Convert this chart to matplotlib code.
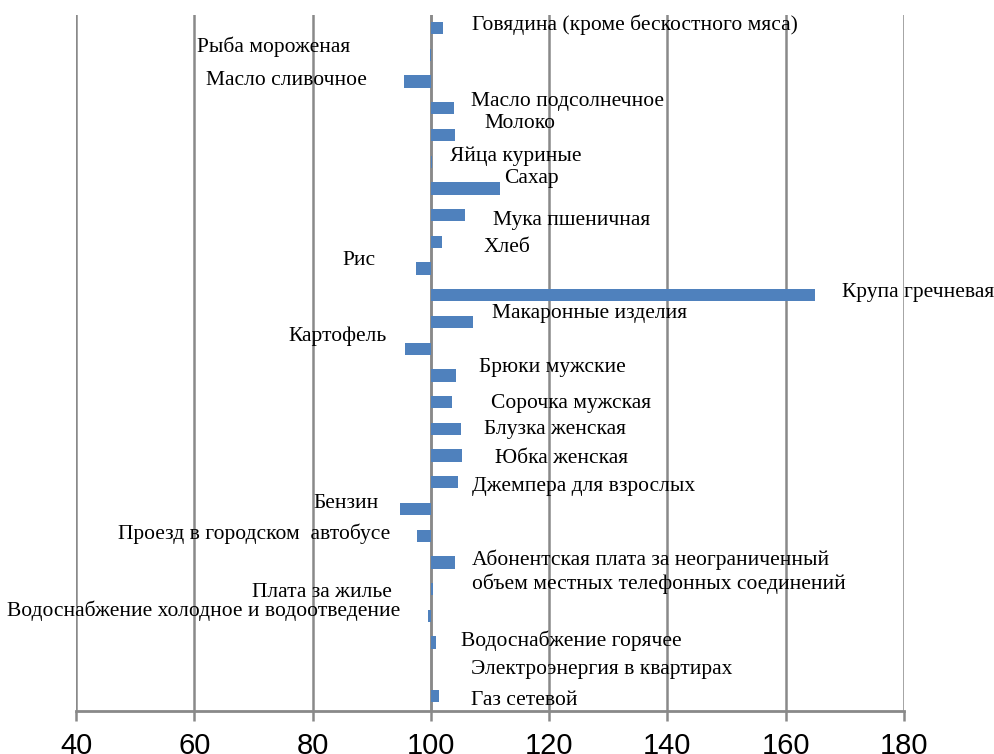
import matplotlib
matplotlib.use("Agg")
import matplotlib.pyplot as plt

# индексы цен, % (база 100)
categories = [
    "Говядина (кроме бескостного мяса)", "Рыба мороженая", "Масло сливочное",
    "Масло подсолнечное", "Молоко", "Яйца куриные", "Сахар", "Мука пшеничная",
    "Хлеб", "Рис", "Крупа гречневая", "Макаронные изделия", "Картофель",
    "Брюки мужские", "Сорочка мужская", "Блузка женская", "Юбка женская",
    "Джемпера для взрослых", "Бензин", "Проезд в городском  автобусе",
    "Абонентская плата за неограниченный\nобъем местных телефонных соединений",
    "Плата за жилье", "Водоснабжение холодное и водоотведение",
    "Водоснабжение горячее", "Электроэнергия в квартирах", "Газ сетевой",
]
values = [102.0, 99.9, 95.4, 103.9, 104.0, 100.2, 111.7, 105.8, 101.9, 97.5,
          165.0, 107.1, 95.6, 104.2, 103.5, 105.1, 105.2, 104.6, 94.8, 97.6,
          104.1, 100.4, 99.5, 100.9, 100.1, 101.3]
base = 100
xticks = [40, 60, 80, 100, 120, 140, 160, 180]

# положение подписей (как в исходной диаграмме): x подписи, сдвиг по строке
label_x = [106.96, 86.33, 89.21, 106.79, 108.99, 103.24, 112.37, 110.51,
           108.99, 90.73, 169.52, 110.34, 92.59, 108.14, 110.17, 108.99,
           110.85, 106.96, 91.23, 93.09, 106.96, 93.43, 94.79, 105.10,
           106.79, 106.79]
label_dy = [-0.22, -0.40, -0.13, -0.34, -0.52, -0.32, -0.46, 0.11, 0.12,
            -0.39, -0.19, -0.41, -0.58, -0.39, -0.04, -0.07, 0.0, 0.07,
            -0.30, -0.17, 0.25, 0.04, -0.29, -0.17, -0.08, 0.08]
label_shift = 0.1

fig = plt.figure(figsize=(9.95, 7.54), dpi=100)
ax = fig.add_axes([0.0764, 0.057, 0.8321, 0.9231])

ypos = list(range(len(categories)))
widths = [v - base for v in values]
ax.barh(ypos, widths, left=base, height=0.46, color="#4F81BD", zorder=3)

for i, (lab, v) in enumerate(zip(categories, values)):
    ha = "left" if label_x[i] > base else "right"
    ax.text(label_x[i], i + label_dy[i] + label_shift, lab, ha=ha, va="center",
            fontsize=15.5, family="Liberation Serif", linespacing=1.25, zorder=4)

ax.set_xlim(40, 180)
ax.set_ylim(len(categories) - 0.44, -0.49)
ax.set_xticks(xticks)
ax.set_yticks([])
ax.grid(axis="x", color="#898989", linewidth=1.8, zorder=0)
ax.axvline(base, color="#898989", linewidth=1.8, zorder=2)
for s in ["top", "left", "right"]:
    ax.spines[s].set_visible(False)
ax.spines["bottom"].set_color("#898989")
ax.spines["bottom"].set_linewidth(2)
ax.tick_params(axis="x", direction="out", length=7, width=1.8, color="#898989",
               labelsize=21, pad=8)
for t in ax.get_xticklabels():
    t.set_family("Liberation Sans")

fig.savefig("out.png", dpi=100)
